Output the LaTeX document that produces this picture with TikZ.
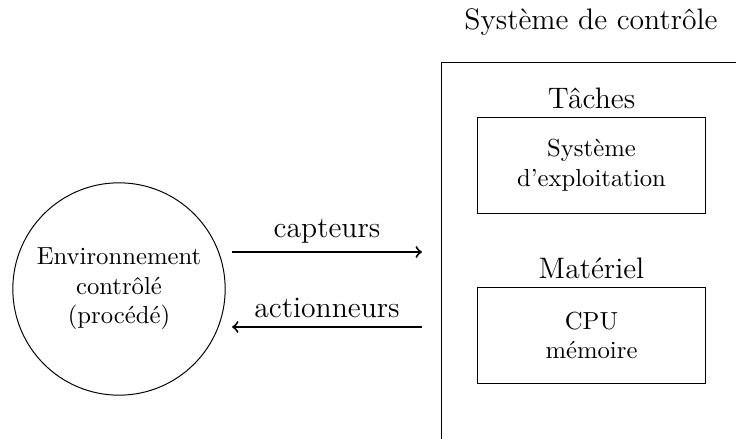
\documentclass[tikz,border=0pt]{standalone}
\usetikzlibrary{positioning}
\begin{document}
\begin{tikzpicture}[x=0.405pt,y=-0.405pt,
	every node/.style={align=center},
	boite/.style={draw,minimum width=92pt,minimum height=38.5pt},
	fleche/.style={->,thick}]
	\clip (0,0) rectangle (736,439);
	% environnement
	\node(env) at (119,289) [draw,circle,minimum size=86pt,inner sep=0pt] {Environnement\\contr\^ol\'e\\(proc\'ed\'e)};
	% systeme de controle
	\node(sys) at (591,22) {\large Syst\`eme de contr\^ole};
	\draw (760,62) -- (441,62) -- (441,460);
	\node(os) at (591.5,165.5) [boite] {Syst\`eme\\d'exploitation};
	\node(taches) [above=0pt of os] {\large T\^aches};
	\node(cpu) at (591.5,335.5) [boite] {CPU\\m\'emoire};
	\node(materiel) [above=0pt of cpu] {\large Mat\'eriel};
	% capteurs / actionneurs
	\coordinate (envcapt) at (232,252);
	\coordinate (syscapt) at (422,252);
	\coordinate (envact) at (232,327);
	\coordinate (sysact) at (422,327);
	\draw[fleche] (envcapt) -- node[above]{\large capteurs} (syscapt);
	\draw[fleche] (sysact) -- node[above]{\large actionneurs} (envact);
\end{tikzpicture}
\end{document}
